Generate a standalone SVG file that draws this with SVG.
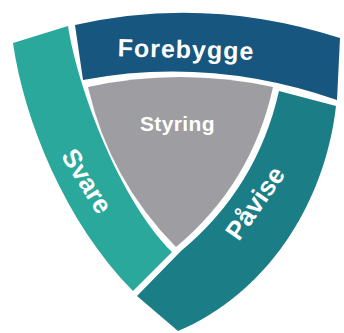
<svg xmlns="http://www.w3.org/2000/svg" width="344" height="333" viewBox="0 0 344 333">
<style>
.lbl{font-family:"Liberation Sans",Arial,sans-serif;font-weight:bold;fill:#ffffff;text-anchor:middle}
</style>
<rect width="344" height="333" fill="#ffffff"/>
<g id="node-forebygge">
<path d="M75,25 Q206,-5 340,38 L337,100 Q210,56 83,80 Z" fill="#17567e"/>
<text class="lbl" x="186" y="58" font-size="25" letter-spacing="1" transform="rotate(1.5 186 50)">Forebygge</text>
</g>
<g id="node-svare">
<path d="M13,43 L68,26 C78,90 120,200 172,252 L133,291 C65,222 24,120 13,43 Z" fill="#29a89b"/>
<text class="lbl" font-size="26" transform="translate(87 181) rotate(58)" x="0" y="9">Svare</text>
</g>
<g id="node-pavise">
<path d="M279,91 L336,106 C325,205 265,295 178,331 L137,296 L181,251 Q257,188 279,91 Z" fill="#1b7e87"/>
<text class="lbl" font-size="26" transform="translate(255 203) rotate(-55)" x="0" y="9">Påvise</text>
</g>
<g id="node-styring">
<path d="M88,87 Q179.5,67 273,87 Q251.9,183.6 176,247 Q109.2,179.6 88,87 Z" fill="#9e9da1"/>
<text class="lbl" x="177.5" y="131" font-size="21" letter-spacing="0.4">Styring</text>
</g>
</svg>
